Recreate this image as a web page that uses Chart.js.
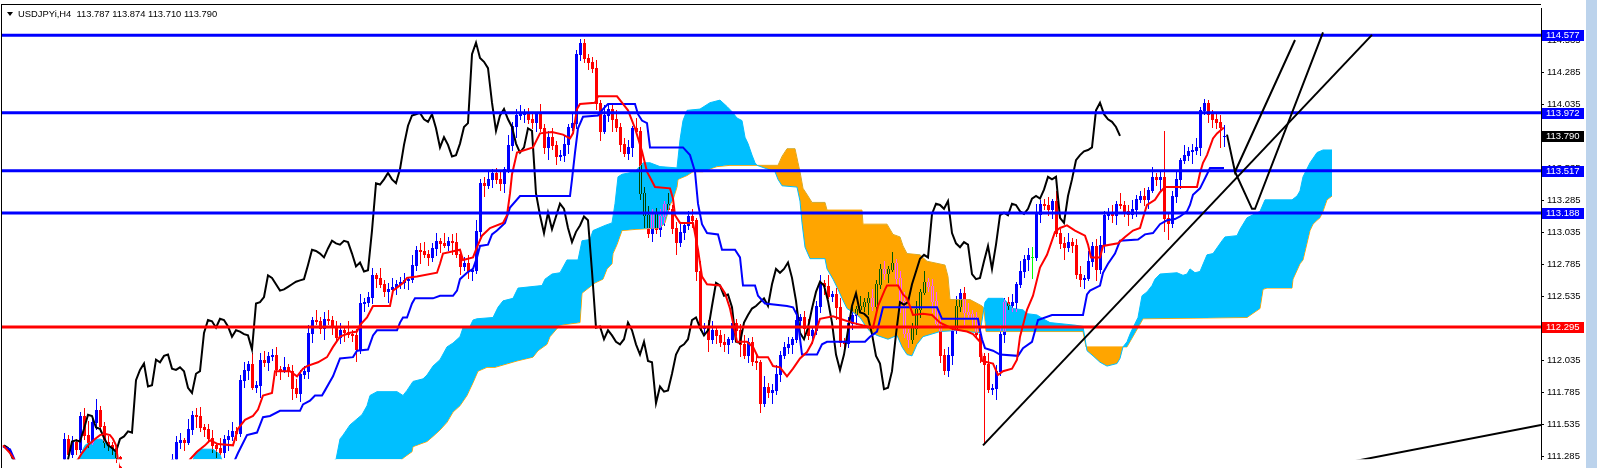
<!DOCTYPE html>
<html><head><meta charset="utf-8">
<script src="https://cdn.jsdelivr.net/npm/chart.js@4.4.1/dist/chart.umd.min.js"></script>
<style>html,body{margin:0;padding:0;background:#fff;overflow:hidden}#wrap{position:relative;width:1597px;height:468px}</style>
</head><body><div id="wrap"><canvas id="c"></canvas></div>
<script>
const symbolTitle = "USDJPYi,H4  113.787 113.874 113.710 113.790";

const opens = [111.02,111.05,111.08,111.02,111.00,111.04,111.08,111.12,111.10,111.06,111.09,111.13,111.11,111.14,111.15,
111.20,111.42,111.30,111.40,111.34,111.60,111.45,111.40,111.55,111.65,111.52,111.40,111.37,111.35,
111.28,111.20,111.18,111.15,111.12,111.10,111.12,111.15,111.13,111.10,111.12,111.15,111.18,111.20,
111.26,111.40,111.41,111.40,111.50,111.61,111.60,111.51,111.50,111.43,111.37,111.35,111.32,111.42,111.44,111.48,
111.47,111.88,111.96,112.01,111.83,111.84,112.04,112.02,112.07,112.08,111.97,111.96,111.98,111.95,111.82,111.78,111.93,
111.95,112.25,112.35,112.34,112.29,112.36,112.35,112.30,112.22,112.27,112.26,112.24,112.23,
112.12,112.48,112.49,112.53,112.70,112.68,112.63,112.58,112.59,112.61,112.63,112.65,112.66,
112.67,112.78,112.90,112.89,112.87,112.84,112.91,112.97,112.95,112.94,112.97,112.96,112.87,112.77,112.80,112.73,
112.74,113.05,113.42,113.41,113.45,113.50,113.45,113.42,113.53,113.72,113.87,113.95,113.96,113.97,113.92,113.90,113.96,
113.85,113.70,113.78,113.72,113.63,113.64,113.73,113.86,113.89,114.43,114.52,114.40,114.37,114.32,114.05,113.83,
113.95,114.00,113.92,113.86,113.73,113.66,113.70,113.85,113.83,113.34,113.17,113.03,113.19,113.06,113.16,113.26,113.22,
113.07,112.96,113.04,113.09,113.16,113.13,112.73,112.29,112.30,112.20,112.27,112.23,112.18,112.16,112.20,112.33,112.27,
112.16,112.08,112.18,112.03,112.02,111.70,111.83,111.79,111.80,111.93,112.08,112.14,112.16,112.20,112.35,112.37,112.29,
112.23,112.27,112.46,112.64,112.62,112.54,112.55,112.45,112.18,112.17,112.33,112.39,112.44,112.46,112.49,112.52,112.46,
112.63,112.75,112.72,112.75,112.80,112.68,112.50,112.25,112.20,112.29,112.44,112.57,112.65,112.62,112.50,112.33,112.08,
111.96,112.08,112.27,112.46,112.56,112.41,112.40,112.37,112.24,112.07,112.01,111.81,111.82,111.95,112.24,112.49,112.47,
112.49,112.63,112.73,112.83,112.84,112.84,113.18,113.26,113.25,113.22,113.28,113.03,112.95,112.92,112.96,112.94,112.71,
112.67,112.68,112.81,112.93,112.75,112.94,113.17,113.19,113.17,113.26,113.25,113.20,113.18,113.22,113.30,113.32,113.30,
113.37,113.47,113.45,113.47,113.15,113.11,113.32,113.45,113.60,113.64,113.67,113.68,113.70,113.99,114.05,113.96,113.92,113.90,113.787];

const highs = [111.09,111.14,111.10,111.10,111.07,111.13,111.19,111.15,111.14,111.15,111.15,111.21,111.17,111.20,111.24,
111.47,111.45,111.44,111.42,111.63,111.66,111.56,111.60,111.73,111.68,111.55,111.44,111.40,111.37,
111.29,111.23,111.21,111.18,111.15,111.16,111.19,111.18,111.16,111.15,111.19,111.22,111.24,111.30,
111.44,111.47,111.43,111.58,111.64,111.66,111.67,111.54,111.54,111.49,111.39,111.43,111.45,111.49,111.55,111.51,
111.92,112.02,112.03,112.09,111.87,112.09,112.11,112.10,112.12,112.14,111.99,112.06,112.01,112.00,111.89,111.96,111.99,
112.31,112.37,112.43,112.37,112.41,112.43,112.38,112.34,112.33,112.29,112.34,112.27,112.28,
112.55,112.52,112.57,112.76,112.72,112.76,112.66,112.64,112.68,112.66,112.69,112.72,112.69,
112.86,112.93,112.95,112.96,112.90,112.95,113.03,112.99,113.03,113.00,113.02,113.03,112.90,112.84,112.86,112.76,
113.13,113.45,113.47,113.52,113.53,113.54,113.51,113.55,113.80,113.90,114.00,114.03,114.00,114.01,113.98,113.98,114.04,
113.88,113.83,113.85,113.75,113.68,113.79,113.88,113.97,114.46,114.55,114.55,114.43,114.41,114.38,114.07,114.03,
114.03,114.05,113.99,113.89,113.77,113.76,113.87,113.93,113.86,113.39,113.24,113.22,113.23,113.22,113.28,113.34,113.25,
113.12,113.11,113.12,113.20,113.22,113.15,112.81,112.33,112.35,112.34,112.30,112.27,112.24,112.22,112.41,112.36,112.32,
112.23,112.21,112.22,112.09,112.04,111.91,111.86,111.85,112.00,112.11,112.18,112.22,112.22,112.43,112.40,112.42,112.36,
112.30,112.50,112.70,112.66,112.70,112.58,112.60,112.52,112.21,112.37,112.45,112.46,112.54,112.52,112.57,112.59,112.66,
112.79,112.81,112.77,112.88,112.83,112.73,112.57,112.28,112.33,112.50,112.59,112.73,112.68,112.67,112.57,112.36,112.12,
112.14,112.29,112.54,112.59,112.61,112.48,112.43,112.41,112.30,112.09,112.09,111.85,112.00,112.31,112.52,112.53,112.55,
112.65,112.81,112.86,112.91,112.92,113.26,113.29,113.30,113.31,113.30,113.36,113.06,113.00,113.03,112.99,112.98,112.77,
112.70,112.89,112.96,112.98,113.01,113.20,113.23,113.25,113.28,113.34,113.28,113.25,113.29,113.33,113.36,113.38,113.39,
113.55,113.50,113.52,113.83,113.18,113.36,113.51,113.62,113.72,113.70,113.73,113.77,114.02,114.08,114.07,113.99,113.97,113.95,113.874];

const lows = [110.99,111.00,110.95,110.98,110.96,110.95,111.05,111.04,111.03,111.01,111.02,111.09,111.07,111.05,111.12,
111.18,111.26,111.28,111.30,111.32,111.42,111.36,111.38,111.50,111.48,111.36,111.33,111.30,111.24,
111.15,111.12,111.10,111.08,111.05,111.07,111.09,111.08,111.05,111.07,111.10,111.12,111.14,111.17,
111.23,111.35,111.33,111.38,111.46,111.51,111.48,111.44,111.40,111.32,111.28,111.30,111.28,111.33,111.41,111.41,
111.44,111.83,111.89,111.81,111.79,111.75,111.99,111.96,112.04,111.92,111.89,111.94,111.91,111.73,111.75,111.72,111.90,
111.90,112.18,112.32,112.25,112.20,112.32,112.24,112.19,112.17,112.19,112.22,112.19,112.03,
112.09,112.42,112.46,112.48,112.61,112.61,112.54,112.49,112.56,112.55,112.60,112.60,112.59,
112.65,112.74,112.80,112.84,112.78,112.81,112.86,112.88,112.92,112.90,112.87,112.84,112.71,112.74,112.68,112.66,
112.72,113.01,113.32,113.38,113.39,113.42,113.37,113.35,113.51,113.68,113.78,113.92,113.90,113.89,113.85,113.83,113.83,
113.66,113.61,113.69,113.57,113.60,113.59,113.66,113.84,113.85,114.38,114.37,114.31,114.29,114.00,113.76,113.81,
113.91,113.83,113.83,113.67,113.63,113.61,113.63,113.81,113.30,113.08,113.00,112.97,113.03,113.01,113.09,113.20,113.03,
112.87,112.93,112.98,113.06,113.08,112.66,112.27,112.25,112.11,112.17,112.17,112.15,112.11,112.09,112.18,112.23,112.07,
112.05,112.02,112.00,111.97,111.63,111.68,111.75,111.70,111.77,111.87,112.05,112.09,112.09,112.18,112.31,112.20,112.20,
112.17,112.24,112.41,112.55,112.52,112.50,112.36,112.15,112.11,112.14,112.28,112.32,112.42,112.42,112.40,112.43,112.40,
112.60,112.67,112.65,112.73,112.64,112.41,112.22,112.14,112.17,112.24,112.37,112.55,112.58,112.41,112.30,112.02,111.93,
111.91,112.01,112.25,112.42,112.32,112.37,112.31,112.21,112.02,111.40,111.79,111.77,111.73,111.92,112.18,112.44,112.42,
112.42,112.61,112.69,112.74,112.68,112.82,113.12,113.22,113.17,113.15,113.01,112.91,112.83,112.89,112.88,112.68,112.62,
112.60,112.66,112.77,112.66,112.72,112.88,113.14,113.12,113.10,113.23,113.16,113.09,113.15,113.16,113.27,113.25,113.23,
113.35,113.41,113.36,113.05,112.98,113.08,113.27,113.38,113.58,113.60,113.58,113.65,113.64,113.96,113.90,113.86,113.85,113.70,113.710];

const closes = [111.05,111.08,111.02,111.00,111.04,111.08,111.12,111.10,111.06,111.09,111.13,111.11,111.14,111.15,111.20,
111.42,111.30,111.40,111.34,111.60,111.45,111.40,111.55,111.65,111.52,111.40,111.37,111.35,111.28,
111.20,111.18,111.15,111.12,111.10,111.12,111.15,111.13,111.10,111.12,111.15,111.18,111.20,111.26,
111.40,111.41,111.40,111.50,111.61,111.60,111.51,111.50,111.43,111.37,111.35,111.32,111.42,111.44,111.48,111.47,
111.88,111.96,112.01,111.83,111.84,112.04,112.02,112.07,112.08,111.97,111.96,111.98,111.95,111.82,111.78,111.93,111.95,
112.25,112.35,112.34,112.29,112.36,112.35,112.30,112.22,112.27,112.26,112.24,112.23,112.12,
112.48,112.49,112.53,112.70,112.68,112.63,112.58,112.59,112.61,112.63,112.65,112.66,112.67,
112.78,112.90,112.89,112.87,112.84,112.91,112.97,112.95,112.94,112.97,112.96,112.87,112.77,112.80,112.73,112.74,
113.05,113.42,113.41,113.45,113.50,113.45,113.42,113.53,113.72,113.87,113.95,113.96,113.97,113.92,113.90,113.96,113.85,
113.70,113.78,113.72,113.63,113.64,113.73,113.86,113.89,114.43,114.52,114.40,114.37,114.32,114.05,113.83,113.95,
114.00,113.92,113.86,113.73,113.66,113.70,113.85,113.83,113.34,113.17,113.03,113.19,113.06,113.16,113.26,113.22,113.07,
112.96,113.04,113.09,113.16,113.13,112.73,112.29,112.30,112.20,112.27,112.23,112.18,112.16,112.20,112.33,112.27,112.16,
112.08,112.18,112.03,112.02,111.70,111.83,111.79,111.80,111.93,112.08,112.14,112.16,112.20,112.35,112.37,112.29,112.23,
112.27,112.46,112.64,112.62,112.54,112.55,112.45,112.18,112.17,112.33,112.39,112.44,112.46,112.49,112.52,112.46,112.63,
112.75,112.72,112.75,112.80,112.68,112.50,112.25,112.20,112.29,112.44,112.57,112.65,112.62,112.50,112.33,112.08,111.96,
112.08,112.27,112.46,112.56,112.41,112.40,112.37,112.24,112.07,112.01,111.81,111.82,111.95,112.24,112.49,112.47,112.49,
112.63,112.73,112.83,112.86,112.84,113.18,113.26,113.25,113.22,113.28,113.03,112.95,112.92,112.96,112.94,112.71,112.67,
112.68,112.81,112.93,112.75,112.94,113.17,113.19,113.17,113.26,113.25,113.20,113.18,113.22,113.30,113.32,113.30,113.37,
113.47,113.45,113.47,113.15,113.11,113.32,113.45,113.60,113.64,113.67,113.68,113.70,113.99,114.05,113.96,113.92,113.90,113.86,113.790];

const chikouShift = 26;

const tenkan = [[-0.25,111.37],[1.5,111.31],[2.75,111.25],[6.5,111.16],[14,111.13],[18.5,111.26],[19.5,111.31],[21,111.37],[22.75,111.42],[24,111.45],[25.25,111.46],[26.5,111.45],[27.25,111.42],[28,111.37],[28.5,111.25],[36.5,111.16],[45.25,111.19],[46.5,111.26],[48.25,111.32],[50.25,111.37],[51.5,111.41],[53.5,111.38],[57.25,111.37],[58.5,111.50],[60.25,111.57],[62.25,111.60],[63.5,111.65],[64.75,111.76],[67,111.78],[67.75,111.95],[71.5,111.95],[73.25,111.91],[74.75,111.97],[75.75,111.99],[78.5,112.02],[80.75,112.06],[82.25,112.14],[84,112.22],[86.5,112.25],[88.25,112.26],[89,112.31],[90.75,112.37],[92.25,112.46],[96.5,112.46],[97.25,112.58],[99.75,112.64],[100.75,112.68],[103.25,112.69],[108.25,112.72],[109,112.79],[109.75,112.87],[114,112.90],[114.75,112.82],[117.25,112.84],[118.25,112.92],[119.5,113.01],[121.5,113.07],[124.75,113.11],[125.75,113.17],[126.5,113.34],[127,113.49],[128.25,113.66],[132.25,113.70],[134,113.81],[137,113.82],[139.75,113.80],[141.5,113.77],[142.25,113.81],[143.25,114.00],[144,114.04],[147.75,114.05],[148.5,114.10],[153.25,114.10],[154.5,114.05],[156,113.99],[157.75,113.85],[159.5,113.67],[160.75,113.51],[162.75,113.39],[166.5,113.38],[167.25,113.30],[167.75,113.17],[169,113.11],[172.25,113.11],[173.5,112.90],[174.5,112.69],[175.75,112.63],[179,112.62],[180.25,112.56],[181.5,112.44],[182.25,112.33],[183.25,112.18],[185.75,112.18],[187.25,112.14],[188.5,112.06],[191,112.06],[192.25,111.99],[194,111.98],[195.75,111.91],[197.25,111.97],[199,112.05],[200.75,112.10],[202,112.17],[204,112.36],[207.25,112.38],[209,112.36],[212,112.33],[215.75,112.30],[217.25,112.29],[218.5,112.46],[220.25,112.59],[220.75,112.62],[223.5,112.62],[224.75,112.55],[225.75,112.52],[227.25,112.39],[229.75,112.40],[232,112.39],[234,112.33],[237.25,112.28],[240.75,112.26],[242.25,112.24],[244,112.18],[244.5,112.03],[247.25,112.01],[248.5,111.92],[249.75,111.95],[252,111.97],[253.25,112.04],[254,112.22],[255.75,112.43],[257.25,112.54],[259,112.76],[260.75,112.86],[262.75,113.04],[264,113.07],[265.75,113.09],[267.75,113.05],[270.25,113.01],[271,112.94],[271.75,112.84],[274,112.84],[274.75,112.93],[278.5,112.95],[280.25,113.00],[282.25,113.05],[284,113.07],[284.75,113.15],[285.75,113.25],[287.75,113.29],[289,113.35],[290.25,113.39],[298.25,113.39],[299,113.50],[299.75,113.58],[300.75,113.64],[302.25,113.77],[303.25,113.81],[304.75,113.85],[305,113.85]];

const kijun = [[-0.25,111.36],[1.5,111.34],[2.75,111.25],[9,111.09],[56.5,111.17],[58.5,111.31],[60.75,111.45],[63.25,111.47],[64,111.53],[64.75,111.59],[66.5,111.60],[69,111.64],[74,111.64],[74.75,111.69],[76.5,111.72],[77.75,111.76],[79.5,111.76],[80.25,111.80],[81.5,111.87],[82.25,111.91],[84,112.05],[87.25,112.06],[88.25,112.11],[91,112.12],[92.25,112.23],[93.25,112.27],[98.25,112.27],[99,112.33],[99.75,112.37],[100.75,112.37],[102,112.48],[102.75,112.52],[107.25,112.52],[109,112.54],[112.25,112.54],[113.25,112.58],[114,112.67],[115.75,112.72],[117.25,112.75],[118.25,112.84],[119,112.93],[121,112.94],[122,113.02],[123.25,113.05],[125.25,113.11],[126.5,113.23],[129,113.32],[141.5,113.32],[142,113.45],[142.75,113.66],[143.5,113.85],[144.75,113.94],[148.5,113.95],[149.75,114.00],[151,114.04],[157.75,114.04],[158.5,113.96],[159.5,113.91],[160.75,113.89],[161.5,113.70],[169.75,113.70],[171.5,113.64],[172.75,113.51],[173.5,113.26],[174.5,113.10],[175.75,113.03],[178.5,113.02],[179.5,112.90],[182.75,112.90],[184,112.84],[184.75,112.62],[187.75,112.62],[188.5,112.54],[190.25,112.48],[195.75,112.46],[197.25,112.45],[198.25,112.39],[199.5,112.08],[203.25,112.08],[204.5,112.16],[205.75,112.18],[215.25,112.18],[216.5,112.22],[218.25,112.26],[219.75,112.45],[233.25,112.45],[234.5,112.36],[243.5,112.36],[244,112.27],[244.5,112.20],[245.25,112.13],[247.25,112.11],[249,112.08],[253.5,112.07],[254.75,112.13],[257,112.18],[258.5,112.35],[262,112.39],[269.75,112.39],[270.75,112.55],[271.5,112.58],[274,112.62],[274.75,112.72],[276,112.79],[277.75,112.87],[279,112.97],[283.5,112.98],[285.25,113.02],[287.25,113.03],[289,113.10],[290.75,113.13],[292.75,113.14],[294,113.16],[295.75,113.20],[296.5,113.25],[297.25,113.33],[299,113.38],[300.75,113.49],[301.5,113.54],[305,113.54]];

const spanA = [[0,111.00],[16.5,111.10],[18.5,111.26],[20.25,111.37],[22.25,111.41],[24,111.42],[24.75,111.41],[27.25,111.34],[28.25,111.30],[29,111.21],[36.5,111.05],[46.5,111.15],[47.75,111.31],[49,111.34],[52.25,111.34],[54,111.30],[55,111.20],[64,111.10],[79,111.20],[83,111.26],[84,111.42],[84.75,111.45],[86.5,111.53],[89.5,111.61],[90.75,111.68],[91.5,111.76],[93.25,111.79],[98.25,111.79],[99.75,111.76],[100.75,111.80],[102.25,111.87],[104.75,111.89],[105.75,111.92],[107.25,111.99],[109,112.04],[110.75,112.14],[112.25,112.17],[114,112.22],[114.75,112.29],[116.5,112.30],[117.25,112.35],[118.25,112.36],[122.25,112.37],[123.5,112.45],[124.75,112.50],[127.25,112.52],[128.5,112.60],[134.5,112.62],[135.25,112.67],[137,112.71],[139,112.72],[140.75,112.82],[143.5,112.82],[144.5,112.97],[146.5,112.98],[147.25,113.05],[150.25,113.09],[152,113.11],[152.75,113.26],[153.5,113.47],[154.5,113.49],[157.75,113.51],[159.75,113.58],[161.5,113.58],[164,113.55],[168.25,113.54],[169,113.76],[169.75,113.91],[170.75,113.99],[174,114.00],[176.5,114.05],[179,114.07],[180.75,114.02],[182,113.98],[183.25,113.93],[184.5,113.91],[185.25,113.78],[186,113.73],[187,113.64],[187.75,113.58],[188.25,113.56],[192.75,113.51],[193.5,113.45],[194.5,113.40],[198.25,113.39],[199,113.28],[199.5,113.11],[200.25,112.92],[201.5,112.83],[205.25,112.83],[205.75,112.75],[207.25,112.67],[208.5,112.59],[209.5,112.52],[210.75,112.44],[212.75,112.40],[214,112.37],[215.25,112.31],[216.5,112.26],[218.25,112.23],[221,112.20],[223.25,112.23],[224.5,112.14],[225.75,112.08],[227,112.07],[228.25,112.16],[229.75,112.22],[234,112.26],[239,112.27],[240.75,112.26],[244,112.25],[245.25,112.49],[246,112.52],[249.75,112.52],[250.75,112.49],[252.25,112.44],[254.75,112.43],[255.75,112.40],[258.25,112.39],[259.75,112.36],[261.5,112.33],[267.75,112.31],[269.75,112.30],[270.75,112.11],[272.25,112.07],[274,112.02],[275.75,111.99],[278.25,112.01],[279,112.05],[279.75,112.14],[280.75,112.18],[281.5,112.24],[282.25,112.29],[283.5,112.37],[284.5,112.54],[285.75,112.57],[287,112.62],[287.75,112.67],[289,112.71],[293.25,112.72],[294.75,112.70],[295.75,112.71],[296.5,112.75],[297.75,112.72],[299,112.73],[300.75,112.86],[302.25,112.87],[304.5,112.97],[305.25,113.00],[308.25,113.01],[309,113.06],[310.75,113.15],[314,113.20],[315.25,113.29],[322,113.29],[323.25,113.32],[324,113.36],[324.75,113.47],[326.5,113.58],[328.25,113.66],[329.75,113.68],[332,113.68]];

const spanB = [[0,110.80],[49,110.90],[74,111.00],[99,111.24],[99.75,111.27],[102,111.32],[102.25,111.36],[105.75,111.40],[107.25,111.44],[109,111.49],[110.75,111.55],[112.25,111.63],[114,111.68],[115.75,111.76],[117.25,111.86],[118.5,111.95],[120.75,111.98],[122.75,111.98],[128.25,112.03],[132.25,112.06],[133.5,112.11],[135.75,112.16],[136.5,112.22],[139,112.31],[144,112.33],[144.5,112.56],[147.75,112.64],[149.75,112.67],[150.75,112.75],[152,112.79],[152.25,112.87],[153.25,112.94],[154.5,113.05],[158.25,113.06],[164,113.07],[165.25,113.11],[166.5,113.25],[167.25,113.29],[168.25,113.39],[168.5,113.45],[170.75,113.48],[172.25,113.51],[174.75,113.51],[177.25,113.54],[178.25,113.55],[181.5,113.56],[193.5,113.56],[194.5,113.63],[195.75,113.69],[197.75,113.69],[198.5,113.58],[199,113.51],[199.75,113.38],[201,113.32],[202,113.27],[205.25,113.27],[205.75,113.21],[214.5,113.21],[214.75,113.10],[220.75,113.10],[222.25,113.02],[224,113.00],[224.75,112.93],[225.75,112.87],[229,112.86],[230.75,112.81],[235.25,112.78],[236,112.69],[236.5,112.51],[241.5,112.51],[244.5,112.46],[245,112.44],[245.5,112.26],[269.75,112.26],[270.5,112.14],[279.75,112.14],[280.75,112.14],[283.5,112.29],[284.75,112.36],[310.75,112.37],[314,112.44],[314.75,112.59],[315.75,112.60],[322,112.60],[322.25,112.67],[324,112.79],[324.75,112.82],[326.5,113.05],[327.25,113.10],[328.25,113.13],[329,113.15],[329.75,113.20],[330.75,113.29],[332,113.32]];

const blueLevels = [114.577, 113.972, 113.517, 113.188];
const redLevels = [112.295];
const tickValues = [111.285,111.535,111.785,112.035,112.285,112.535,112.785,113.035,113.285,113.535,113.785,114.035,114.285,114.535];
const trendLines = [
  [[244.75,111.37],[342,114.58]],
  [[305.75,113.80],[307.75,113.51],[322.75,114.54]],
  [[307.75,113.51],[312,113.22],[312.75,113.22],[329.75,114.60]],
  [[330,111.20],[384.25,111.53]]
];

const X_MIN = -0.5, X_MAX = 384.25, Y_MIN = 111.261, Y_MAX = 114.785;
const FONT = '"Liberation Sans", Arial, sans-serif';

const toPts = arr => arr.map(([x,y]) => ({x, y}));
const nBars = Math.min(opens.length, highs.length, lows.length, closes.length);

const chikouPts = [];
for (let i = chikouShift; i < nBars; i++) chikouPts.push({x: i - chikouShift, y: closes[i]});

const lineDs = (data, color, width, order, extra) => Object.assign({
  type: 'line', data, borderColor: color, backgroundColor: color, borderWidth: width,
  pointRadius: 0, tension: 0, fill: false, order, borderCapStyle: 'butt'
}, extra || {});

const datasets = [];
datasets.push(lineDs(toPts(spanB), '#FFA500', 1, 11));
datasets.push(lineDs(toPts(spanA), '#00BFFF', 1, 10, {fill: {target: 0, above: '#00BFFF', below: '#FFA500'}}));
const IDX_SPANA = 1;
datasets.push(lineDs(toPts(tenkan), '#FF0000', 2, 5));
datasets.push(lineDs(toPts(kijun), '#0000FF', 2, 5));
datasets.push(lineDs(chikouPts, '#000000', 2, 5));
blueLevels.forEach(v => datasets.push(lineDs([{x: X_MIN, y: v}, {x: X_MAX, y: v}], '#0000FF', 3, 2)));
redLevels.forEach(v => datasets.push(lineDs([{x: X_MIN, y: v}, {x: X_MAX, y: v}], '#FF0000', 3, 2)));
trendLines.forEach(t => datasets.push(lineDs(toPts(t), '#000000', 2, 1)));

function cloudPath(ctx, xs, ys) {
  spanA.forEach(([x, y], k) => {
    const px = xs.getPixelForValue(x), py = ys.getPixelForValue(y);
    if (k === 0) ctx.moveTo(px, py); else ctx.lineTo(px, py);
  });
  for (let k = spanB.length - 1; k >= 0; k--) {
    ctx.lineTo(xs.getPixelForValue(spanB[k][0]), ys.getPixelForValue(spanB[k][1]));
  }
  ctx.closePath();
}

// MT4 paints the cloud with an XOR pen: inside the cloud a candle shows as
// candle XOR (white XOR cloud). That equals "difference" of the inverted candle colour.
function drawCandles(ctx, xs, ys, inverted) {
  for (let i = 0; i < nBars; i++) {
    const x = Math.round(xs.getPixelForValue(i));
    const yo = Math.round(ys.getPixelForValue(opens[i]));
    const yc = Math.round(ys.getPixelForValue(closes[i]));
    const yh = Math.round(ys.getPixelForValue(highs[i]));
    const yl = Math.round(ys.getPixelForValue(lows[i]));
    let col;
    if (closes[i] > opens[i]) col = inverted ? '#FFFF00' : '#0000FF';
    else if (closes[i] < opens[i]) col = inverted ? '#00FFFF' : '#FF0000';
    else col = inverted ? '#FF00FF' : '#00FF00';
    ctx.fillStyle = col;
    ctx.fillRect(x, yh, 1, Math.max(1, yl - yh + 1));
    const t = Math.min(yo, yc), b = Math.max(yo, yc);
    ctx.fillRect(x - 1, t, 3, Math.max(1, b - t + 1));
  }
}

const candlePlugin = {
  id: 'candles',
  afterDatasetDraw(chart, args) {
    if (args.index !== IDX_SPANA) return;
    const ctx = chart.ctx, xs = chart.scales.x, ys = chart.scales.y, a = chart.chartArea;
    ctx.save();
    ctx.beginPath();
    ctx.rect(a.left, a.top, a.right - a.left, a.bottom - a.top);
    cloudPath(ctx, xs, ys);
    ctx.clip('evenodd');
    drawCandles(ctx, xs, ys, false);
    ctx.restore();
    ctx.save();
    ctx.beginPath();
    ctx.rect(a.left, a.top, a.right - a.left, a.bottom - a.top);
    ctx.clip();
    ctx.beginPath();
    cloudPath(ctx, xs, ys);
    ctx.clip();
    ctx.globalCompositeOperation = 'difference';
    drawCandles(ctx, xs, ys, true);
    ctx.restore();
  }
};

const decorPlugin = {
  id: 'decor',
  afterDraw(chart) {
    const ctx = chart.ctx, ys = chart.scales.y, a = chart.chartArea;
    ctx.save();
    ctx.strokeStyle = '#000'; ctx.lineWidth = 1;
    ctx.beginPath();
    ctx.moveTo(1.5, 4); ctx.lineTo(1.5, 468);
    ctx.moveTo(1, 4.5); ctx.lineTo(a.right, 4.5);
    ctx.stroke();
    ctx.fillStyle = '#BCD3EC';
    ctx.fillRect(1586, 0, 11, 468);
    ctx.fillStyle = '#000';
    ctx.beginPath(); ctx.moveTo(7, 12); ctx.lineTo(13, 12); ctx.lineTo(10, 16); ctx.closePath(); ctx.fill();
    ctx.font = '9.4px ' + FONT; ctx.textBaseline = 'alphabetic'; ctx.textAlign = 'left';
    ctx.fillText(symbolTitle, 18, 17);
    const tag = (v, bg) => {
      const y = Math.round(ys.getPixelForValue(v));
      ctx.fillStyle = bg;
      ctx.fillRect(a.right + 1, y - 5, 42, 11);
      ctx.fillStyle = '#FFFFFF';
      ctx.font = '9.5px ' + FONT; ctx.textBaseline = 'middle';
      ctx.fillText(v.toFixed(3), a.right + 5, y + 0.5);
    };
    blueLevels.forEach(v => tag(v, '#0000FF'));
    redLevels.forEach(v => tag(v, '#FF0000'));
    tag(closes[nBars - 1], '#000000');
    ctx.restore();
  }
};

new Chart(document.getElementById('c'), {
  data: {datasets},
  options: {
    responsive: true, maintainAspectRatio: false, animation: false, events: [],
    devicePixelRatio: 1,
    layout: {padding: {left: 2, top: 5, right: 0, bottom: 0}},
    plugins: {legend: {display: false}, tooltip: {enabled: false}, title: {display: false}},
    scales: {
      x: {type: 'linear', display: false, min: X_MIN, max: X_MAX},
      y: {
        type: 'linear', position: 'right', min: Y_MIN, max: Y_MAX,
        afterFit: s => { s.width = 56; },
        afterBuildTicks: s => { s.ticks = tickValues.map(v => ({value: v})); },
        ticks: {callback: v => Number(v).toFixed(3), color: '#000', font: {family: FONT, size: 9.5}, padding: 3, autoSkip: false, maxRotation: 0},
        grid: {drawOnChartArea: false, drawTicks: true, tickLength: 3, color: '#000'},
        border: {display: true, color: '#000', width: 1}
      }
    }
  },
  plugins: [candlePlugin, decorPlugin]
});
</script>
</body></html>
